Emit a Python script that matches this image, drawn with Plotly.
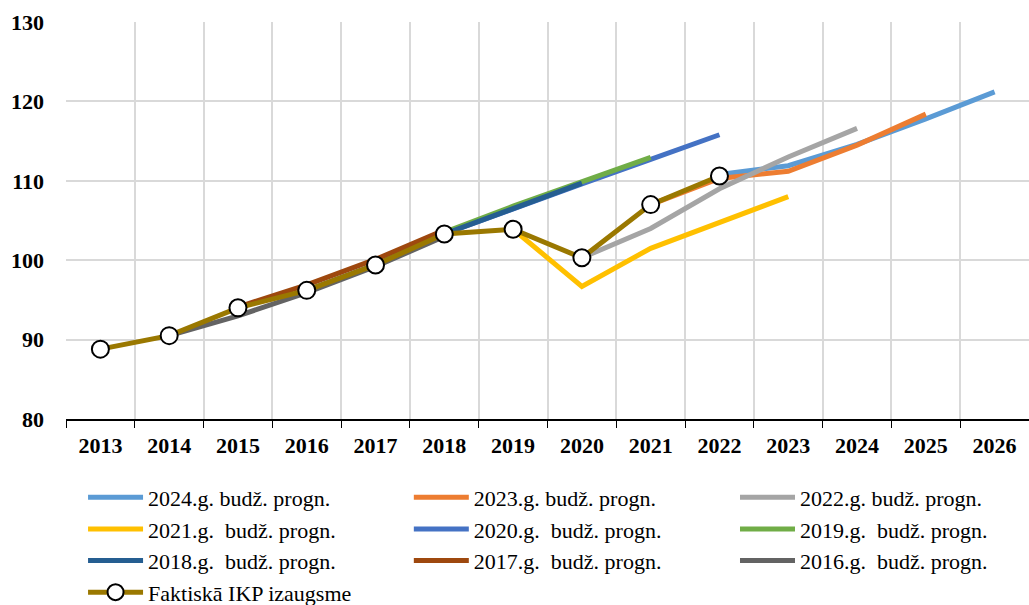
import plotly.graph_objects as go

years = [str(y) for y in range(2013, 2027)]

# Actual GDP index (2013-2022)
actual_years = ["2013", "2014", "2015", "2016", "2017", "2018", "2019", "2020", "2021", "2022"]
actual_vals = [88.8, 90.5, 94.0, 96.2, 99.4, 103.3, 103.9, 100.3, 107.0, 110.6]

f2024_years = ["2022", "2023", "2024", "2025", "2026"]
f2024_vals = [110.8, 111.9, 114.6, 117.8, 121.2]

f2023_years = ["2021", "2022", "2023", "2024", "2025"]
f2023_vals = [107.0, 110.3, 111.2, 114.5, 118.4]

f2022_years = ["2020", "2021", "2022", "2023", "2024"]
f2022_vals = [100.3, 104.0, 109.0, 113.0, 116.6]

f2021_years = ["2019", "2020", "2021", "2022", "2023"]
f2021_vals = [103.9, 96.7, 101.5, 104.8, 108.0]

f2020_years = ["2018", "2019", "2020", "2021", "2022"]
f2020_vals = [103.3, 106.5, 109.6, 112.7, 115.8]

f2019_years = ["2017", "2018", "2019", "2020", "2021"]
f2019_vals = [99.4, 103.5, 106.8, 109.9, 112.95]

f2018_years = ["2016", "2017", "2018", "2019", "2020"]
f2018_vals = [96.2, 99.4, 103.3, 106.5, 109.7]

f2017_years = ["2015", "2016", "2017", "2018"]
f2017_vals = [94.1, 96.9, 100.1, 103.8]

f2016_years = ["2014", "2015", "2016", "2017", "2018"]
f2016_vals = [90.5, 93.0, 95.9, 99.2, 103.0]

# (name, x, y, colour, legend column)
series = [
    ("2024.g. budž. progn.", f2024_years, f2024_vals, "#5B9BD5", "legend"),
    ("2023.g. budž. progn.", f2023_years, f2023_vals, "#ED7D31", "legend2"),
    ("2022.g. budž. progn.", f2022_years, f2022_vals, "#A5A5A5", "legend3"),
    ("2021.g.  budž. progn.", f2021_years, f2021_vals, "#FFC000", "legend"),
    ("2020.g.  budž. progn.", f2020_years, f2020_vals, "#4472C4", "legend2"),
    ("2019.g.  budž. progn.", f2019_years, f2019_vals, "#70AD47", "legend3"),
    ("2018.g.  budž. progn.", f2018_years, f2018_vals, "#255E91", "legend"),
    ("2017.g.  budž. progn.", f2017_years, f2017_vals, "#9E480E", "legend2"),
    ("2016.g.  budž. progn.", f2016_years, f2016_vals, "#636363", "legend3"),
]

FONT = "Liberation Serif"

fig = go.Figure()
for name, xs, ys, col, leg in series:
    fig.add_trace(go.Scatter(x=xs, y=ys, name=name, mode="lines", legend=leg,
                             line=dict(color=col, width=5)))

fig.add_trace(go.Scatter(x=actual_years, y=actual_vals, name="Faktiskā IKP izaugsme",
                         mode="lines+markers", legend="legend",
                         line=dict(color="#9A7800", width=5),
                         marker=dict(symbol="circle", size=17, color="white",
                                     line=dict(color="black", width=2))))

leg_common = dict(orientation="v", xanchor="left", y=-0.145, yanchor="top",
                  font=dict(family=FONT, size=22, color="black"),
                  traceorder="normal", tracegroupgap=0, itemwidth=55,
                  bgcolor="rgba(0,0,0,0)", borderwidth=0)

fig.update_layout(
    width=1029, height=605,
    margin=dict(l=66, r=0, t=22, b=186, autoexpand=False),
    plot_bgcolor="white", paper_bgcolor="white",
    font=dict(family=FONT, color="black"),
    showlegend=True,
    legend=dict(x=0.0177, **leg_common),
    legend2=dict(x=0.356, **leg_common),
    legend3=dict(x=0.6947, **leg_common),
    xaxis=dict(type="category", categoryorder="array", categoryarray=years,
               range=[-0.5, 13.5],
               tickson="boundaries", ticks="outside", ticklen=7, tickcolor="black",
               showline=True, linecolor="black", linewidth=1.5,
               showgrid=True, gridcolor="#D9D9D9", gridwidth=2,
               tickfont=dict(family=FONT, size=22, color="black", weight="bold"),
               ticklabelstandoff=6, fixedrange=True),
    yaxis=dict(range=[80, 130], dtick=10, tick0=80,
               showline=False, showgrid=True, gridcolor="#D9D9D9", gridwidth=2,
               zeroline=False, ticks="",
               tickfont=dict(family=FONT, size=22, color="black", weight="bold"),
               ticklabelstandoff=21, fixedrange=True),
)

fig.write_html("out.html", config={"displayModeBar": False},
               post_script="document.body.style.margin='0';")
